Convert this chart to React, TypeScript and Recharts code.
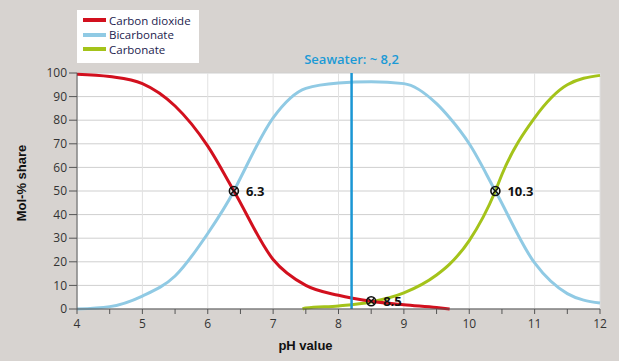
import { LineChart, Line, XAxis, YAxis, CartesianGrid, ReferenceLine, ReferenceDot } from 'recharts';

const co2Ph = [4, 4.5, 5, 5.5, 6, 6.4, 7, 7.5, 8, 8.5, 9, 9.5, 9.7];
const co2Share = [99.5, 98.5, 95.5, 86, 69, 50, 21, 10, 5.8, 3.3, 1.8, 0.6, 0];

const bicarbPh = [4, 4.5, 5, 5.5, 6, 6.4, 6.5, 7, 7.5, 8, 8.5, 9, 9.5, 9.7, 10, 10.4, 11, 11.5, 12];
const bicarbShare = [0, 1, 5.5, 14, 32, 50, 55.5, 81, 93.5, 95.8, 96.3, 95.5, 87, 81, 70, 50, 19.5, 6.5, 2.5];

const carbPh = [7.45, 7.5, 8, 8.5, 9, 9.5, 9.7, 10, 10.4, 10.5, 11, 11.5, 12];
const carbShare = [0, 0.4, 1.3, 3, 6.8, 14.4, 19, 29, 50, 57, 81, 95, 99];

const phTicks = [4, 4.5, 5, 5.5, 6, 6.5, 7, 7.5, 8, 8.5, 9, 9.5, 10, 10.5, 11, 11.5, 12];
const phGrid = [4, 5, 6, 7, 8, 9, 10, 11, 12];
const shareTicks = [0, 5, 10, 15, 20, 25, 30, 35, 40, 45, 50, 55, 60, 65, 70, 75, 80, 85, 90, 95, 100];
const shareGrid = [0, 10, 20, 30, 40, 50, 60, 70, 80, 90, 100];

const seawaterPh = 8.2;
const markerPh = [6.4, 8.5, 10.4];
const markerShare = [50, 3.3, 50];
const markerLabels = ['6.3', '8.5', '10.3'];

const series = [
  { name: 'Carbon dioxide', color: '#d2101e', ph: co2Ph, share: co2Share },
  { name: 'Bicarbonate', color: '#90cae4', ph: bicarbPh, share: bicarbShare },
  { name: 'Carbonate', color: '#a4c31a', ph: carbPh, share: carbShare },
];

const toRows = (ph: number[], share: number[]) => ph.map((p, i) => ({ ph: p, v: share[i] }));

const tickStyle = { fontSize: 12, fill: '#333', fontFamily: 'Open Sans, sans-serif' };

const CrossCircle = (props: any) => {
  const { cx, cy } = props;
  return (
    <g>
      <circle cx={cx} cy={cy} r={4.5} fill="none" stroke="#111" strokeWidth={1.6} />
      <line x1={cx - 3} y1={cy - 3} x2={cx + 3} y2={cy + 3} stroke="#111" strokeWidth={1.4} />
      <line x1={cx - 3} y1={cy + 3} x2={cx + 3} y2={cy - 3} stroke="#111" strokeWidth={1.4} />
    </g>
  );
};

export default function App() {
  return (
    <div style={{ position: 'absolute', left: 0, top: 0, width: 619, height: 361, background: '#d7d3d0' }}>
      <LineChart width={619} height={361} margin={{ top: 73, right: 19, left: 0, bottom: 0 }}>
        <CartesianGrid fill="#fff" stroke="#cfcfcf" vertical={false} horizontalValues={shareGrid} />
        <CartesianGrid stroke="#e2e2e2" horizontal={false} verticalValues={phGrid} />
        <XAxis
          type="number"
          dataKey="ph"
          domain={[4, 12]}
          ticks={phTicks}
          tickFormatter={(v: number) => (Number.isInteger(v) ? String(v) : '')}
          height={52}
          tickSize={5}
          tickMargin={5}
          tick={tickStyle}
          stroke="#555"
          allowDuplicatedCategory={false}
          label={{
            content: (p: any) => (
              <text x={p.viewBox.x + p.viewBox.width / 2 - 33} y={350} textAnchor="middle"
                style={{ fontSize: 13, fontWeight: 700, fontFamily: 'Liberation Sans, Arial, sans-serif', fill: '#111' }}>
                pH value
              </text>
            ),
          }}
        />
        <YAxis
          type="number"
          domain={[0, 100]}
          ticks={shareTicks}
          tickFormatter={(v: number) => (v % 10 === 0 ? String(v) : '')}
          width={77}
          tickSize={8}
          tickMargin={2}
          tick={tickStyle}
          stroke="#555"
          label={{
            content: (p: any) => (
              <text x={26} y={p.viewBox.y + p.viewBox.height / 2 - 8} textAnchor="middle"
                transform={`rotate(-90, 26, ${p.viewBox.y + p.viewBox.height / 2 - 8})`}
                style={{ fontSize: 13, fontWeight: 700, fontFamily: 'Liberation Sans, Arial, sans-serif', fill: '#111' }}>
                Mol-% share
              </text>
            ),
          }}
        />
        {[series[1], series[2], series[0]].map((s) => (
          <Line
            key={s.name}
            data={toRows(s.ph, s.share)}
            dataKey="v"
            type="monotone"
            stroke={s.color}
            strokeWidth={3}
            dot={false}
            isAnimationActive={false}
          />
        ))}
        <ReferenceLine
          x={seawaterPh}
          stroke="#1a96d4"
          strokeWidth={2.5}
          label={{
            value: 'Seawater: ~ 8,2',
            position: 'top',
            offset: 9,
            fill: '#1b9ad6',
            fontSize: 13,
            fontWeight: 600,
            fontFamily: 'Open Sans, sans-serif',
          }}
        />
        {markerPh.map((p, i) => (
          <ReferenceDot
            key={p}
            x={p}
            y={markerShare[i]}
            r={5}
            shape={CrossCircle}
            label={{
              value: markerLabels[i],
              position: 'right',
              offset: 7,
              fill: '#111',
              fontSize: 13,
              fontWeight: 700,
              fontFamily: 'Open Sans, sans-serif',
            }}
          />
        ))}
      </LineChart>
      <div
        style={{
          position: 'absolute', left: 77, top: 10, width: 122, height: 53, background: '#fff',
          fontFamily: 'Open Sans, sans-serif', fontSize: 11.5, color: '#1c1c4e',
          boxSizing: 'border-box', paddingTop: 3, paddingLeft: 6,
        }}
      >
        {series.map((s) => (
          <div key={s.name} style={{ display: 'flex', alignItems: 'center', height: 14.5 }}>
            <span style={{ display: 'inline-block', width: 23, height: 4, background: s.color, marginRight: 3 }} />
            <span>{s.name}</span>
          </div>
        ))}
      </div>
    </div>
  );
}
